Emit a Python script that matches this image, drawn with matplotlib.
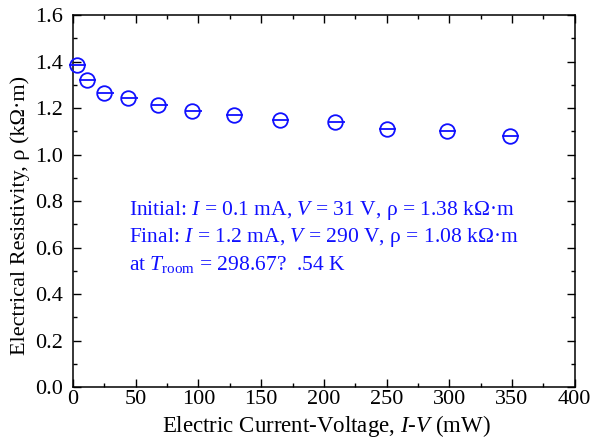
import matplotlib
matplotlib.use("Agg")
import matplotlib.pyplot as plt
from matplotlib.ticker import MultipleLocator

# power (mW) and resistivity (kOhm m)
power_mw = [3.1, 11, 25, 44, 68, 95, 128, 165, 209, 250, 298, 348]
resistivity = [1.385, 1.320, 1.266, 1.242, 1.213, 1.189, 1.170, 1.148, 1.138, 1.110, 1.101, 1.081]
xerr_lo = [6.0] * len(power_mw)
xerr_hi = [7.5] * len(power_mw)

notes = [
    r"Initial: $I$ = 0.1 mA, $V$ = 31 V, ρ = 1.38 kΩ·m",
    r"Final: $I$ = 1.2 mA, $V$ = 290 V, ρ = 1.08 kΩ·m",
    r"at $T_{\mathrm{room}}$ = 298.67?  .54 K",
]

plt.rcParams['font.family'] = ['Liberation Serif', 'DejaVu Serif']
plt.rcParams['mathtext.fontset'] = 'custom'
plt.rcParams['mathtext.rm'] = 'Liberation Serif'
plt.rcParams['mathtext.it'] = 'Liberation Serif:italic'

fig = plt.figure(figsize=(5.95, 4.43), dpi=100)
ax = fig.add_axes([0.1227, 0.1264, 0.8433, 0.8397])

ax.errorbar(power_mw, resistivity, xerr=[xerr_lo, xerr_hi], fmt='o',
            mfc='none', mec='#1010ff', ecolor='#1010ff', ms=10.5, mew=1.3,
            elinewidth=1.3, capsize=0, clip_on=False, zorder=3)

y0 = 0.761
for i, line in enumerate(notes):
    ax.text(45, y0 - i * 0.116, line, color='#1010ff', fontsize=15.5,
            ha='left', va='center')

ax.set_xlim(0, 400)
ax.set_ylim(0, 1.6)
ax.xaxis.set_major_locator(MultipleLocator(50))
ax.xaxis.set_minor_locator(MultipleLocator(25))
ax.yaxis.set_major_locator(MultipleLocator(0.2))
ax.yaxis.set_minor_locator(MultipleLocator(0.1))
ax.yaxis.set_major_formatter(plt.FormatStrFormatter('%.1f'))
ax.tick_params(which='both', direction='in', top=True, right=True,
               labelsize=16, width=1)
ax.tick_params(which='major', length=6)
ax.tick_params(axis='x', which='major', pad=2)
ax.tick_params(axis='y', which='major', pad=7)
ax.tick_params(which='minor', length=3)
for s in ax.spines.values():
    s.set_linewidth(1.1)

ax.set_xlabel(r"Electric Current-Voltage, $I$-$V$ (mW)", fontsize=16.5)
ax.set_ylabel("Electrical Resistivity, ρ (kΩ·m)", fontsize=16)
ax.xaxis.set_label_coords(0.505, -0.07)
ax.yaxis.set_label_coords(-0.085, 0.46)

fig.savefig("out.png", dpi=100, facecolor='white')
